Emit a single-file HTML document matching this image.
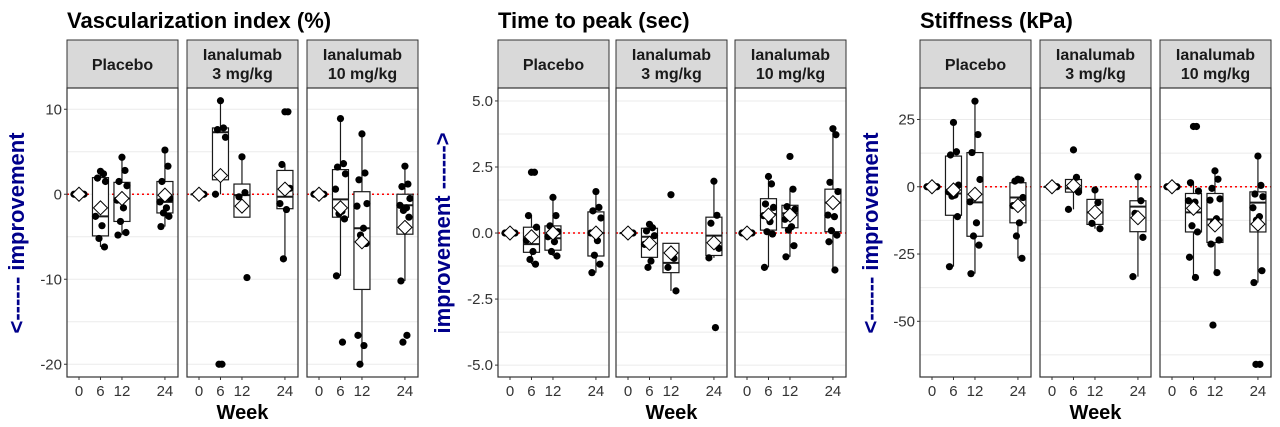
<!DOCTYPE html>
<html><head><meta charset="utf-8"><style>
html,body{margin:0;padding:0;background:#fff}
svg{display:block;font-family:"Liberation Sans",Arial,sans-serif}
</style></head><body>
<svg id="fig" width="1280" height="427" viewBox="0 0 1280 427" xmlns="http://www.w3.org/2000/svg"></svg>
<script>
// ---------- shared data ----------
const weeks = [0, 6, 12, 24];
const groups = ["Placebo", "Ianalumab|3 mg/kg", "Ianalumab|10 mg/kg"];
const titles = ["Vascularization index (%)", "Time to peak (sec)", "Stiffness (kPa)"];
const yLabels = ["<------ improvement", "improvement ------>", "<------ improvement"];

// box stats per [panel][week] : [whiskerLow, q1, median, q3, whiskerHigh, mean]
const vascBoxes = [
 [[0,0,0,0,0,0],[-6.2,-4.9,-2.6,1.96,2.8,-1.6],[-4.8,-3.2,-0.5,1.4,4.35,-0.5],[-3.8,-2.2,-0.9,1.5,5.2,-0.1]],
 [[0,0,0,0,0,0],[0,1.7,7.3,7.8,11,2.2],[-2.7,-2.7,-0.1,1.2,4.4,-1.4],[-7.6,-1.7,-0.3,2.8,3.5,0.6]],
 [[0,0,0,0,0,0],[-9.6,-2.7,-0.6,2.9,8.9,-1.6],[-20,-11.2,-4,0.3,7.1,-5.6],[-10.2,-4.7,-1.3,0,3.3,-3.9]]
];
const vascPoints = [
 [[0,0,0,0,0],[2.7,2.4,1.9,1.5,-2.6,-3.7,-5.2,-6.2],[4.35,2.8,1.5,1.0,-0.7,-1.6,-3.2,-4.5,-4.8],[5.2,3.3,1.5,-0.5,-0.9,-1.6,-2.2,-2.6,-3.8]],
 [[0,0,0,0],[11,7.8,7.6,6.7,0,-20,-20],[4.4,0.2,-0.3,-9.8],[9.7,9.7,3.5,0.7,-1.1,-1.8,-7.6]],
 [[0,0,0,0,0],[8.9,3.6,3.2,2.4,0.6,-2,-2.3,-2.9,-9.6,-17.4],[7.1,2.5,1.7,-1.1,-1.4,-4,-4.8,-5.8,-16.6,-17.8,-20],[3.3,1.2,0.9,-0.5,-1.3,-1.6,-1.9,-2.7,-10.2,-16.6,-17.4]]
];
const ttpBoxes = [
 [[0,0,0,0,0,0],[-1.18,-0.73,-0.42,0.22,0.66,-0.14],[-0.87,-0.65,-0.2,0.27,1.35,0],[-1.5,-0.87,0,0.8,1.57,0]],
 [[0,0,0,0,0,0],[-1.3,-0.92,-0.14,0.18,0.33,-0.39],[-2.19,-1.5,-1.13,-0.39,-0.39,-0.75],[-0.94,-0.85,-0.1,0.6,1.96,-0.37]],
 [[0,0,0,0,0,0],[-1.3,0.11,0.72,1.3,2.14,0.68],[-0.9,0.2,0.75,1.05,1.66,0.68],[-1.4,0.05,1.15,1.66,3.95,1.15]]
];
const ttpPoints = [
 [[0,0,0,0,0],[2.3,2.3,0.66,0.22,-0.27,-0.7,-1,-1.18],[1.35,0.66,0.27,0.05,-0.14,-0.33,-0.7,-0.87],[1.57,0.97,0.84,0.57,0,-0.29,-0.84,-1.18,-1.5]],
 [[0,0,0,0],[0.33,0.2,0.08,-0.1,-0.43,-1.06,-1.3],[1.45,-0.96,-1.3,-2.19],[1.96,0.67,0.37,-0.58,-0.94,-3.58]],
 [[0,0,0,0,0],[2.14,1.86,1.1,0.97,0.66,0.43,0.05,-0.04,-1.3],[2.9,1.66,1.0,0.9,0.52,0.24,0.11,-0.48,-0.9],[3.95,3.72,1.92,1.57,0.68,0.62,0.09,-0.08,-0.33,-1.4]]
];
const stiffBoxes = [
 [[0,0,0,0,0,0],[-29.7,-10.6,-2.5,11.4,23.9,-1.2],[-32.3,-18.4,-5.8,12.7,31.8,-2.8],[-26.6,-13.4,-4,1.5,2.8,-7]],
 [[0,0,0,0,0,0],[-8.4,-2,-0.6,2.7,3.5,0.4],[-15.6,-14,-9.5,-4.7,-1.2,-9.5],[-33.4,-16.7,-7.4,-5.2,3.7,-11.5]],
 [[0,0,0,0,0,0],[-33.7,-16.8,-9.5,-2.5,1.5,-8],[-31.9,-20.7,-12.1,-2.5,5.9,-14.2],[-35.6,-16.8,-5.9,-1.9,11.4,-13.9]]
];
const stiffPoints = [
 [[0,0,0,0,0],[23.9,13,11.8,0.6,-1.9,-3.1,-3.5,-11.1,-29.7],[31.8,19.4,12.7,2.7,-5.6,-13.4,-18.3,-21.7,-32.3],[2.8,2.5,2.1,-4,-7,-13.4,-18.3,-26.6]],
 [[0,0,0,0],[13.7,3.5,0.2,-2,-8.4],[-1.2,-5.9,-13.6,-15.6],[3.7,-5.2,-9.9,-18.8,-33.4]],
 [[0,0,0,0,0],[22.4,22.4,1.5,-1.6,-5.2,-5.7,-14.5,-16.8,-26.2,-33.7],[5.9,2.8,-0.6,-4.5,-5,-11.9,-13.2,-19.8,-21.3,-31.9,-51.4],[11.4,0.5,-2.7,-3.7,-7.8,-11.1,-12.4,-31.2,-35.6,-66,-66]]
];
const vascTicks = [10, 0, -10, -20];
const ttpTicks = [5.0, 2.5, 0.0, -2.5, -5.0];
const stiffTicks = [25, 0, -25, -50];
const vascDomain = [-21.5, 12.5];
const ttpDomain = [-5.45, 5.49];
const stiffDomain = [-70.7, 36.7];

// ---------- layout ----------
const NS = "http://www.w3.org/2000/svg";
const svg = document.getElementById("fig");
function mk(tag, attrs, parent) {
  const e = document.createElementNS(NS, tag);
  for (const k in attrs) e.setAttribute(k, attrs[k]);
  (parent || svg).appendChild(e);
  return e;
}
const charts = [
  {panels:[67,187,307], boxes:vascBoxes, pts:vascPoints, ticks:vascTicks, dom:vascDomain, fmt:v=>String(v), ylx:18, key:"vascularization"},
  {panels:[498,616,735], boxes:ttpBoxes, pts:ttpPoints, ticks:ttpTicks, dom:ttpDomain, fmt:v=>v.toFixed(1), ylx:444, key:"time-to-peak"},
  {panels:[920,1040,1160], boxes:stiffBoxes, pts:stiffPoints, ticks:stiffTicks, dom:stiffDomain, fmt:v=>String(v), ylx:872, key:"stiffness"}
];
const PW = 111, TOP = 88, BOT = 377, STRIP_TOP = 40;
const xDom = [-3.35, 27.65];
const jit = [0, 3, -3, 5, -5, 1.5, -1.5, 4, -4, 2, -2];

charts.forEach((c, ci) => {
  const g = mk("g", {});
  
  
  const y = v => TOP + (c.dom[1] - v) / (c.dom[1] - c.dom[0]) * (BOT - TOP);
  const t = mk("text", {x:c.panels[0], y:28, "font-size":22, "font-weight":"bold", fill:"#000"}, g);
  t.textContent = titles[ci];
  
  
  const yl = mk("text", {x:c.ylx, y:233, "font-size":22, "font-weight":"bold", fill:"#00008B", "text-anchor":"middle", transform:`rotate(-90 ${c.ylx} 233)`, "dominant-baseline":"middle"}, g);
  yl.textContent = yLabels[ci];
  
  
  c.ticks.forEach(tv => {
    const yy = y(tv);
    mk("line", {x1:c.panels[0]-3, x2:c.panels[0], y1:yy, y2:yy, stroke:"#333", "stroke-width":1}, g);
    const tl = mk("text", {x:c.panels[0]-5, y:yy+5, "font-size":15, fill:"#333", "text-anchor":"end"}, g);
    tl.textContent = c.fmt(tv);
    
    
  });
  const step = c.ticks[0] - c.ticks[1];
  c.panels.forEach((px, pi) => {
    const x = w => px + (w - xDom[0]) / (xDom[1] - xDom[0]) * PW;
    const pg = mk("g", {}, g);
    
    
    mk("rect", {x:px, y:STRIP_TOP, width:PW, height:TOP-STRIP_TOP, fill:"#D9D9D9", stroke:"#333", "stroke-width":1}, pg);
    const lines = groups[pi].split("|");
    lines.forEach((ln, li) => {
      const st = mk("text", {x:px+PW/2, y: lines.length === 1 ? 70 : 60 + li*19, "font-size":16, "font-weight":"bold", "text-anchor":"middle", fill:"#1a1a1a"}, pg);
      st.textContent = ln;
      
      
    });
    for (let v = c.ticks[c.ticks.length-1] - step; v <= c.ticks[0] + step; v += step/2) {
      const yy = y(v);
      if (yy < TOP || yy > BOT) continue;
      mk("line", {x1:px, x2:px+PW, y1:yy, y2:yy, stroke:"#EBEBEB", "stroke-width":1}, pg);
    }
    mk("line", {x1:px, x2:px+PW, y1:y(0), y2:y(0), stroke:"#FF0000", "stroke-width":1.5, "stroke-dasharray":"2,3"}, pg);
    weeks.forEach((w, wi) => {
      const b = c.boxes[pi][wi];
      const cx = x(w);
      mk("line", {x1:cx, x2:cx, y1:y(b[0]), y2:y(b[4]), stroke:"#1a1a1a", "stroke-width":1.2}, pg);
      const r = mk("rect", {x:cx-8, y:y(b[3]), width:16, height:Math.max(0.5, y(b[1])-y(b[3])), fill:"#fff", stroke:"#1a1a1a", "stroke-width":1.2}, pg);
      
      
      mk("line", {x1:cx-8, x2:cx+8, y1:y(b[2]), y2:y(b[2]), stroke:"#1a1a1a", "stroke-width":2}, pg);
      c.pts[pi][wi].forEach((v, k) => {
        const p = mk("circle", {cx:cx + jit[k % jit.length], cy:y(v), r:3.6, fill:"#000"}, pg);
        
        
      });
      const my = y(b[5]);
      const d = mk("polygon", {points:`${cx},${my-7} ${cx+7},${my} ${cx},${my+7} ${cx-7},${my}`, fill:"#fff", stroke:"#000", "stroke-width":1}, pg);
      
      
      mk("line", {x1:cx, x2:cx, y1:BOT, y2:BOT+3, stroke:"#333"}, pg);
      const xt = mk("text", {x:cx, y:396, "font-size":15, fill:"#333", "text-anchor":"middle"}, pg);
      xt.textContent = String(w);
      
      
    });
    mk("rect", {x:px, y:TOP, width:PW, height:BOT-TOP, fill:"none", stroke:"#333", "stroke-width":1.2}, pg);
  });
  const wk = mk("text", {x:c.panels[1]+PW/2, y:419, "font-size":20, "font-weight":"bold", "text-anchor":"middle", fill:"#000"}, g);
  wk.textContent = "Week";
  
  
});
</script>
</body></html>
